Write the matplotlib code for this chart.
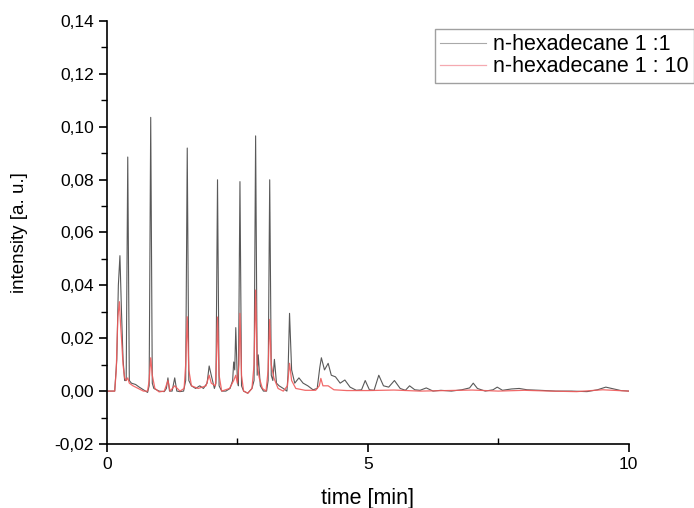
import matplotlib
matplotlib.use('Agg')
import matplotlib.pyplot as plt
from matplotlib.ticker import MultipleLocator, FuncFormatter

plt.rcParams['font.family'] = ['Liberation Sans', 'DejaVu Sans']

# n-hexadecane 1:1 (black trace)
black_t = [0.00, 0.15, 0.19, 0.22, 0.25, 0.28, 0.31, 0.34, 0.37, 0.40, 0.43, 0.47,
           0.55, 0.62, 0.70, 0.78, 0.81, 0.84, 0.87, 0.90, 1.00, 1.10, 1.14, 1.17,
           1.20, 1.25, 1.30, 1.34, 1.40, 1.47, 1.51, 1.54, 1.57, 1.62, 1.70, 1.78,
           1.85, 1.92, 1.96, 2.00, 2.06, 2.09, 2.12, 2.15, 2.20, 2.28, 2.36, 2.41,
           2.43, 2.45, 2.47, 2.50, 2.52, 2.55, 2.58, 2.62, 2.70, 2.78, 2.82, 2.85,
           2.88, 2.90, 2.94, 3.00, 3.06, 3.09, 3.12, 3.15, 3.18, 3.21, 3.25, 3.30,
           3.38, 3.45, 3.47, 3.50, 3.54, 3.60, 3.68, 3.76, 3.85, 3.95, 4.03, 4.08,
           4.11, 4.17, 4.24, 4.30, 4.38, 4.47, 4.56, 4.66, 4.78, 4.88, 4.95, 5.03,
           5.12, 5.21, 5.30, 5.40, 5.51, 5.62, 5.72, 5.80, 5.90, 6.00, 6.12, 6.25,
           6.40, 6.60, 6.80, 6.95, 7.02, 7.10, 7.25, 7.40, 7.48, 7.58, 7.75, 7.90,
           8.05, 8.30, 8.60, 8.90, 9.20, 9.40, 9.56, 9.72, 9.85, 10.00]
black_y = [0.0, 0.0, 0.012, 0.040, 0.0512, 0.030, 0.012, 0.004, 0.004, 0.0885, 0.004, 0.003,
           0.0025, 0.0015, 0.0005, -0.0005, 0.002, 0.1035, 0.003, 0.001, 0.0, -0.0002, 0.001, 0.005,
           0.0, 0.0, 0.005, 0.0, -0.0002, 0.0, 0.004, 0.0919, 0.004, 0.002, 0.001, 0.002,
           0.001, 0.003, 0.0095, 0.006, 0.001, 0.003, 0.0799, 0.002, 0.0, 0.0, 0.001, 0.004,
           0.011, 0.008, 0.024, 0.004, 0.002, 0.0792, 0.002, 0.0, -0.0008, 0.001, 0.004, 0.0965,
           0.006, 0.0137, 0.002, 0.0, 0.0, 0.004, 0.0799, 0.006, 0.004, 0.012, 0.003, 0.002,
           0.001, 0.0, 0.006, 0.0294, 0.008, 0.003, 0.005, 0.003, 0.002, 0.0005, 0.001, 0.009,
           0.0126, 0.008, 0.0105, 0.006, 0.0054, 0.003, 0.0042, 0.0015, 0.0003, 0.0005, 0.004, 0.0005,
           0.0003, 0.006, 0.002, 0.0015, 0.004, 0.001, 0.0003, 0.002, 0.0005, 0.0003, 0.0012, 0.0,
           0.0003, 0.0, 0.0005, 0.0012, 0.003, 0.001, 0.0, 0.0005, 0.0015, 0.0003, 0.0008, 0.001,
           0.0005, 0.0003, 0.0, 0.0, -0.0002, 0.0005, 0.0015, 0.0008, 0.0002, 0.0]

# n-hexadecane 1:10 (red trace)
red_t = [0.00, 0.15, 0.18, 0.21, 0.24, 0.26, 0.28, 0.31, 0.34, 0.37, 0.40, 0.43,
         0.50, 0.60, 0.70, 0.78, 0.81, 0.84, 0.87, 0.92, 1.00, 1.10, 1.17, 1.21,
         1.30, 1.40, 1.48, 1.51, 1.54, 1.57, 1.62, 1.75, 1.90, 1.96, 2.00, 2.08,
         2.10, 2.12, 2.15, 2.20, 2.35, 2.43, 2.47, 2.50, 2.53, 2.55, 2.58, 2.62,
         2.70, 2.78, 2.82, 2.85, 2.88, 2.92, 2.98, 3.05, 3.09, 3.12, 3.15, 3.20,
         3.28, 3.38, 3.46, 3.50, 3.54, 3.62, 3.80, 4.00, 4.07, 4.10, 4.14, 4.24,
         4.35, 4.60, 5.00, 5.50, 6.00, 7.00, 7.50, 8.00, 8.50, 9.00, 9.50, 10.00]
red_y = [0.0, 0.0, 0.008, 0.028, 0.0338, 0.026, 0.020, 0.010, 0.005, 0.004, 0.005, 0.003,
         0.002, 0.001, 0.0, 0.0, 0.004, 0.0126, 0.006, 0.001, -0.0003, 0.0, 0.004, 0.0,
         0.002, 0.0, 0.001, 0.010, 0.0281, 0.008, 0.002, 0.001, 0.002, 0.006, 0.003, 0.002,
         0.012, 0.028, 0.006, 0.0, 0.001, 0.004, 0.006, 0.003, 0.010, 0.0294, 0.006, 0.0,
         -0.0008, 0.001, 0.010, 0.0382, 0.010, 0.005, 0.001, 0.0, 0.008, 0.0271, 0.010, 0.005,
         0.001, 0.0, 0.002, 0.0105, 0.004, 0.001, 0.0003, 0.0003, 0.002, 0.0048, 0.002, 0.002,
         0.0005, 0.0002, 0.0002, 0.0004, 0.0, 0.0004, 0.0, 0.0003, 0.0, -0.0002, 0.0005, 0.0]

fig = plt.figure(figsize=(6.94, 5.08), dpi=100)
ax = fig.add_axes([0.154, 0.126, 0.752, 0.833])

ax.plot(black_t, black_y, color='#3c3c3c', lw=0.8, alpha=0.85, label='n-hexadecane 1 :1')
ax.plot(red_t, red_y, color='#f05a5a', lw=0.9, alpha=0.9, label='n-hexadecane 1 : 10')

ax.set_xlim(0, 10)
ax.set_ylim(-0.02, 0.14)
ax.spines['top'].set_visible(False)
ax.spines['right'].set_visible(False)
for s in ('left', 'bottom'):
    ax.spines[s].set_linewidth(1.2)

ax.xaxis.set_major_locator(MultipleLocator(5))
ax.xaxis.set_minor_locator(MultipleLocator(2.5))
ax.yaxis.set_major_locator(MultipleLocator(0.02))
ax.yaxis.set_minor_locator(MultipleLocator(0.01))
ax.yaxis.set_major_formatter(FuncFormatter(lambda v, p: f"{v:.2f}".replace('.', ',').replace('-0,00', '0,00')))
ax.xaxis.set_major_formatter(FuncFormatter(lambda v, p: f"{v:g}"))
ax.tick_params(axis='both', which='major', direction='out', length=6, width=1.2, labelsize=12.5)
ax.tick_params(axis='y', which='minor', direction='out', length=4, width=1.0)
ax.tick_params(axis='x', which='minor', direction='in', length=4, width=1.0)

ax.set_xlabel('time [min]', fontsize=15.5)
ax.set_ylabel('intensity [a. u.]', fontsize=13.5)
ax.xaxis.set_label_coords(0.5, -0.104)
ax.yaxis.set_label_coords(-0.151, 0.5)

leg = ax.legend(loc='upper left', bbox_to_anchor=(435/694, 1 - 29/508),
                bbox_transform=fig.transFigure, borderaxespad=0, fontsize=15.5,
                fancybox=False, frameon=True, handlelength=2.1, handletextpad=0.35,
                borderpad=0.25, labelspacing=0.05)
leg.get_frame().set_edgecolor('#888888')
leg.get_frame().set_linewidth(1.0)
leg.get_lines()[0].set_color('#9a9a9a')
leg.get_lines()[1].set_color('#f4a0a8')

fig.savefig('out.png', dpi=100)
